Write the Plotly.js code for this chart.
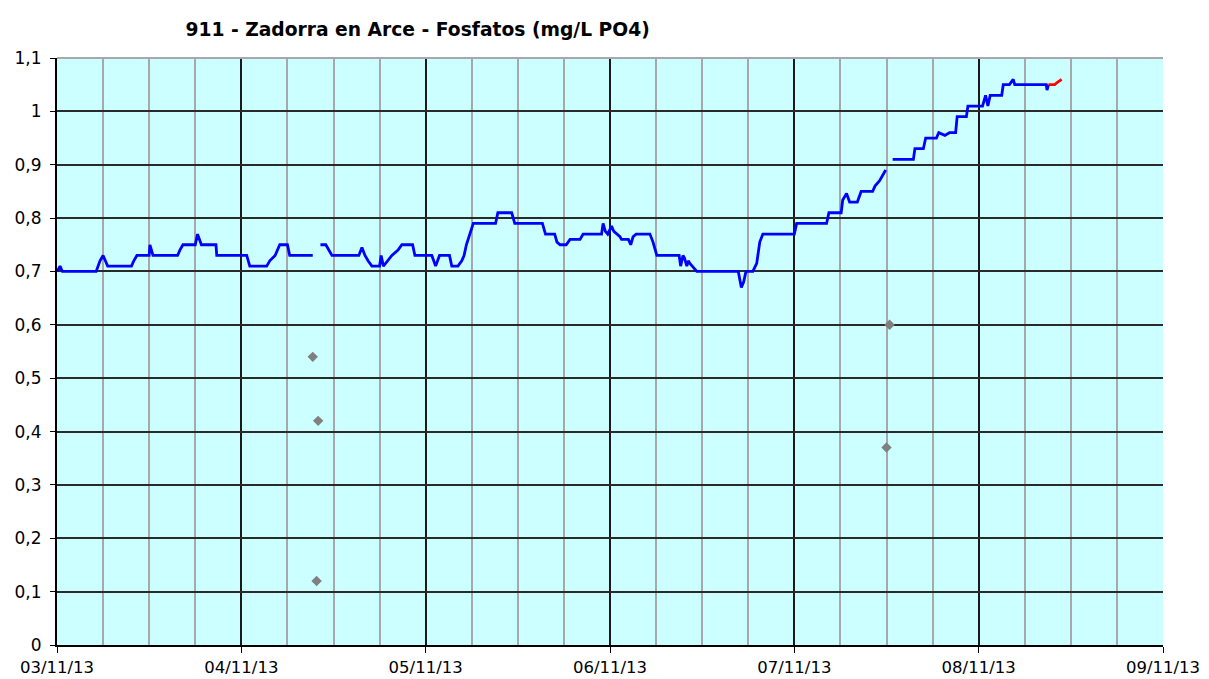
<!DOCTYPE html>
<html>
<head>
<meta charset="utf-8">
<script src="https://cdn.plot.ly/plotly-3.0.1.min.js"></script>
<style>html,body{margin:0;padding:0;background:#fff;}#chart{width:1209px;height:679px;}</style>
</head>
<body>
<div id="chart"></div>
<script>
// Hours since 03/11/13 00:00 and phosphate values (mg/L PO4); null = gap
const startDate = Date.UTC(2013, 10, 3, 0, 0, 0);
const lineHours = [0,0.4,0.7,5.1,5.6,6.0,6.6,9.7,10.0,10.4,12.0,12.1,12.5,15.7,16.0,16.4,18.0,18.3,18.8,20.7,20.8,24.7,25.1,27.3,27.7,28.4,29.0,30.0,30.3,33.3,
  33.8,
  34.3,35.0,35.8,39.3,39.7,40.1,40.5,41.0,42.0,42.2,42.5,43.0,43.6,44.4,44.9,46.3,46.6,48.8,49.3,49.8,51.1,51.4,52.2,52.7,53.0,53.3,53.8,54.2,57.1,57.4,59.2,59.6,63.2,63.6,64.8,65.1,65.5,66.3,66.8,68.1,68.5,70.9,71.1,71.4,71.7,72.2,72.5,73.3,73.5,74.4,74.7,75.0,75.4,77.2,77.6,78.1,81.0,81.2,81.5,81.7,82.0,82.2,82.4,83.3,88.7,89.1,89.4,89.7,90.6,91.1,91.5,91.9,96.0,96.3,100.2,100.5,102.1,102.3,102.8,103.2,104.2,104.7,106.2,106.5,107.1,107.9,
  108.4,
  108.8,111.5,111.7,112.8,113.1,114.5,114.8,115.6,116.2,117.0,117.2,118.4,118.6,120.1,120.5,120.9,121.2,121.5,123.0,123.2,124.0,124.5,124.7,128.8,128.9,129.1];
const lineValues = [0.70,0.71,0.70,0.70,0.72,0.73,0.71,0.71,0.72,0.73,0.73,0.75,0.73,0.73,0.74,0.75,0.75,0.77,0.75,0.75,0.73,0.73,0.71,0.71,0.72,0.73,0.75,0.75,0.73,0.73,
  null,
  0.75,0.75,0.73,0.73,0.745,0.73,0.72,0.71,0.71,0.73,0.71,0.72,0.73,0.74,0.75,0.75,0.73,0.73,0.71,0.73,0.73,0.71,0.71,0.72,0.73,0.75,0.77,0.79,0.79,0.81,0.81,0.79,0.79,0.77,0.77,0.755,0.75,0.75,0.76,0.76,0.77,0.77,0.79,0.775,0.77,0.785,0.775,0.765,0.76,0.76,0.75,0.765,0.77,0.77,0.755,0.73,0.73,0.71,0.73,0.725,0.71,0.72,0.715,0.70,0.70,0.67,0.68,0.70,0.70,0.715,0.755,0.77,0.77,0.79,0.79,0.81,0.81,0.834,0.846,0.83,0.83,0.85,0.85,0.86,0.87,0.89,
  null,
  0.91,0.91,0.93,0.93,0.95,0.95,0.96,0.955,0.96,0.96,0.99,0.99,1.01,1.01,1.01,1.03,1.01,1.03,1.03,1.05,1.05,1.06,1.05,1.05,1.04,1.05];
const redHours = [129.1,129.9,130.3,130.8];
const redValues = [1.05,1.05,1.055,1.06];
const pointHours = [33.3,34.0,33.8,108.4,108.0];
const pointValues = [0.54,0.42,0.12,0.60,0.37];
const chartTitle = '911 - Zadorra en Arce - Fosfatos (mg/L PO4)';

function toDate(h){
  return new Date(startDate + h*3600000).toISOString().replace('T',' ').slice(0,19);
}

const traces = [
  {x: pointHours.map(toDate), y: pointValues, type:'scatter', mode:'markers',
   marker:{symbol:'diamond', size:8, color:'#808080'}, hoverinfo:'x+y'},
  {x: lineHours.map(toDate), y: lineValues, type:'scatter', mode:'lines',
   line:{color:'#0000FF', width:2.8}, connectgaps:false},
  {x: redHours.map(toDate), y: redValues, type:'scatter', mode:'lines',
   line:{color:'#FF0000', width:2.8}}
];

const layout = {
  width:1209, height:679,
  margin:{l:57, r:46, t:58, b:34},
  paper_bgcolor:'#FFFFFF', plot_bgcolor:'#CCFFFF',
  showlegend:false,
  separators:',.',
  font:{family:'DejaVu Sans, Verdana, sans-serif', size:16, color:'#000'},
  title:{text:chartTitle, x:0.326, xref:'paper', xanchor:'center', y:0.956, yref:'container', yanchor:'middle',
         font:{family:'DejaVu Sans, Verdana, sans-serif', size:18.7, color:'#000', weight:'bold'}},
  xaxis:{type:'date', range:[toDate(0), toDate(144)], dtick:86400000, tick0:toDate(0),
         tickformat:'%d/%m/%y', ticks:'outside', ticklen:6, tickcolor:'#000',
         showgrid:true, gridcolor:'#1a1a1a', gridwidth:2,
         minor:{dtick:6*3600000, showgrid:true, gridcolor:'#A8A8A8', gridwidth:2, ticks:''},
         showline:true, linecolor:'#000', linewidth:2, mirror:false, zeroline:false,
         ticklabelstandoff:0,
         tickfont:{size:16.5, color:'#000'}, fixedrange:true},
  yaxis:{range:[0,1.1], dtick:0.1, tick0:0, ticks:'outside', ticklen:5, tickcolor:'#000',
         showgrid:true, gridcolor:'#2a2a2a', gridwidth:2,
         showline:true, linecolor:'#000', linewidth:2, mirror:false, zeroline:false,
         ticklabelstandoff:5,
         tickfont:{size:17, color:'#000'}, fixedrange:true},
  shapes:[
    {type:'line', xref:'paper', yref:'paper', x0:0, x1:1, y0:1, y1:1, line:{color:'#A8A8A8', width:2}, layer:'above'}
  ]
};

Plotly.newPlot('chart', traces, layout, {displayModeBar:false, staticPlot:true});
</script>
</body>
</html>
